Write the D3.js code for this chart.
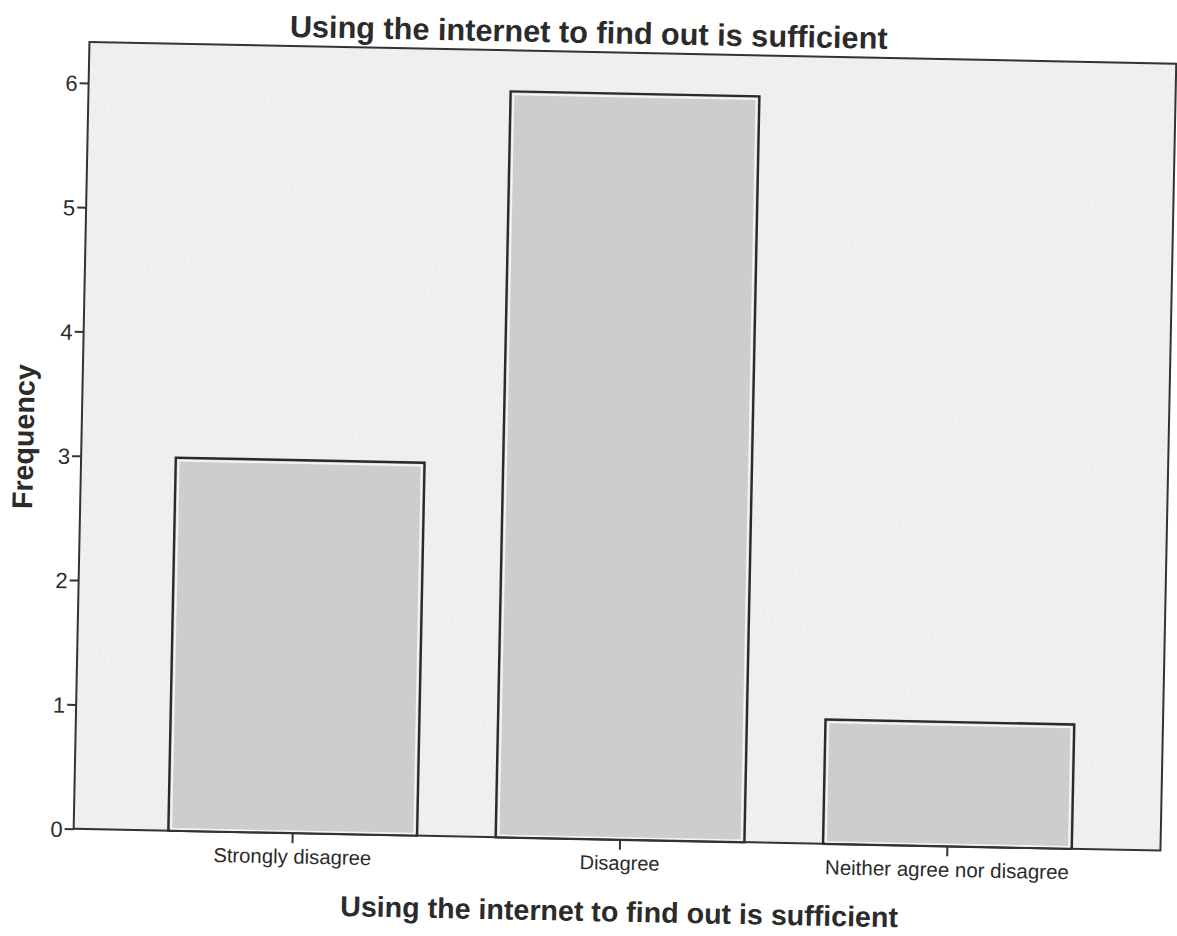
<!DOCTYPE html>
<html>
<head>
<meta charset="utf-8">
<script src="https://cdn.jsdelivr.net/npm/d3@7/dist/d3.min.js"></script>
<style>
  html, body { margin: 0; padding: 0; background: #ffffff; }
  svg { display: block; }
  text { font-family: "Liberation Sans", Arial, sans-serif; fill: #2b2b2b; }
  .yaxis text { font-size: 22px !important; }
</style>
</head>
<body>
<svg id="chart" width="1177" height="936"></svg>
<script>
// ---- data ----
const categories = ["Strongly disagree", "Disagree", "Neither agree nor disagree"];
const frequencies = [3, 6, 1];
const yTicks = [0, 1, 2, 3, 4, 5, 6];
const chartTitle = "Using the internet to find out is sufficient";
const xAxisTitle = "Using the internet to find out is sufficient";
const yAxisTitle = "Frequency";

// ---- layout ----
const W = 1177, H = 936;
const frame = { left: 81, right: 1168, top: 52, bottom: 839 };
const tilt = 1.15; // scanned page tilt in degrees

const svg = d3.select("#chart");
const g = svg.append("g").attr("transform", `rotate(${tilt}, ${W/2}, ${H/2})`);

// noisy paper texture for plot background
const defs = svg.append("defs");
const filt = defs.append("filter").attr("id", "grain").attr("x", 0).attr("y", 0).attr("width", 1).attr("height", 1);
filt.append("feTurbulence").attr("type", "fractalNoise").attr("baseFrequency", 0.35).attr("numOctaves", 2).attr("seed", 4).attr("result", "noise");
filt.append("feColorMatrix").attr("in", "noise").attr("type", "matrix")
  .attr("values", "0 0 0 0 0.6  0 0 0 0 0.6  0 0 0 0 0.6  0.3 0 0 0 -0.1")
  .attr("result", "grey");
filt.append("feComposite").attr("in", "grey").attr("in2", "SourceGraphic").attr("operator", "in").attr("result", "g2");
filt.append("feMerge").call(m => { m.append("feMergeNode").attr("in", "SourceGraphic"); m.append("feMergeNode").attr("in", "g2"); });

const x = d3.scaleBand()
  .domain(categories)
  .range([frame.left + 3, frame.right + 3])
  .paddingInner(0.24)
  .paddingOuter(0.28);

const y = d3.scaleLinear().domain([0, 6]).range([frame.bottom, 93]);

// plot background
g.append("rect")
  .attr("x", frame.left).attr("y", frame.top)
  .attr("width", frame.right - frame.left).attr("height", frame.bottom - frame.top)
  .attr("fill", "#f1f1f1")
  .attr("filter", "url(#grain)");

// bars
const bars = g.append("g").selectAll("g").data(categories).join("g");
bars.append("rect")
  .attr("x", d => x(d))
  .attr("y", (d, i) => y(frequencies[i]))
  .attr("width", x.bandwidth())
  .attr("height", (d, i) => y(0) - y(frequencies[i]))
  .attr("fill", "#cdcdcd")
  .attr("stroke", "#2a2a2a")
  .attr("stroke-width", 2.4);
bars.append("rect")
  .attr("x", d => x(d) + 2.8)
  .attr("y", (d, i) => y(frequencies[i]) + 2.8)
  .attr("width", x.bandwidth() - 5.6)
  .attr("height", (d, i) => y(0) - y(frequencies[i]) - 4.5)
  .attr("fill", "none")
  .attr("stroke", "#f4f4f4")
  .attr("stroke-width", 2);

// frame
g.append("rect")
  .attr("x", frame.left).attr("y", frame.top)
  .attr("width", frame.right - frame.left).attr("height", frame.bottom - frame.top)
  .attr("fill", "none").attr("stroke", "#333").attr("stroke-width", 2);

// y axis
const yAxis = d3.axisLeft(y).tickValues(yTicks).tickFormat(d3.format("d")).tickSize(9).tickPadding(2);
const ya = g.append("g").attr("class", "yaxis").attr("transform", `translate(${frame.left},0)`).call(yAxis);
ya.select(".domain").remove();
ya.selectAll(".tick line").attr("stroke", "#333").attr("stroke-width", 2);
ya.selectAll(".tick text").attr("fill", "#2b2b2b").attr("dy", "0.36em");

// x axis
const xAxis = d3.axisBottom(x).tickSize(10).tickPadding(6);
const xa = g.append("g").attr("transform", `translate(0,${frame.bottom})`).call(xAxis)
  .attr("font-size", 16).attr("font-family", "Liberation Sans, Arial, sans-serif");
xa.select(".domain").remove();
xa.selectAll(".tick line").attr("stroke", "#333").attr("stroke-width", 2);
xa.selectAll(".tick text").style("font-size", "16px").attr("fill", "#2b2b2b");

// fit text to a target width
function fit(sel, target) {
  sel.each(function() {
    const el = d3.select(this);
    const fs = parseFloat(el.style("font-size"));
    const w = this.getComputedTextLength();
    el.style("font-size", (fs * target / w).toFixed(2) + "px");
  });
}
const catWidths = [158, 80, 244];
xa.selectAll(".tick text").each(function(d, i) { fit(d3.select(this), catWidths[i]); });

// titles
const t1 = g.append("text")
  .attr("x", 580).attr("y", 43)
  .attr("text-anchor", "middle")
  .style("font-weight", "bold").style("font-size", "27px")
  .text(chartTitle);
fit(t1, 598);

const t2 = g.append("text")
  .attr("x", 628).attr("y", 921)
  .attr("text-anchor", "middle")
  .style("font-weight", "bold").style("font-size", "26px")
  .text(xAxisTitle);
fit(t2, 558);

const t3 = g.append("text")
  .attr("transform", `translate(33, 448) rotate(-90)`)
  .attr("text-anchor", "middle")
  .style("font-weight", "bold").style("font-size", "24px")
  .text(yAxisTitle);
fit(t3, 145);
</script>
</body>
</html>
